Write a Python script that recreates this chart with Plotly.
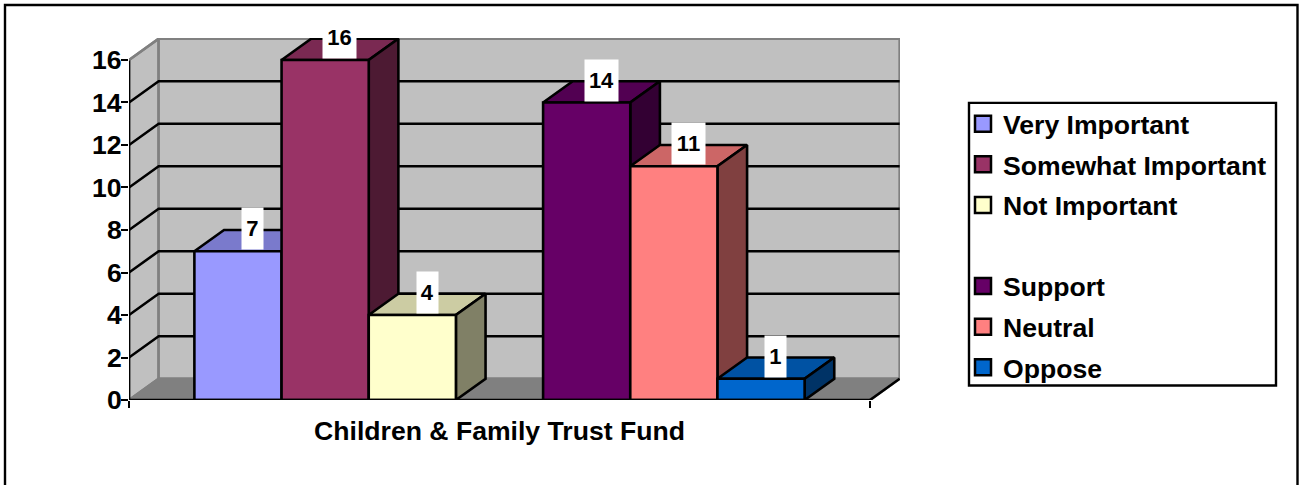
import plotly.graph_objects as go

TITLE = "Children &amp; Family Trust Fund"
SERIES = ["Very Important", "Somewhat Important", "Not Important", " ", "Support", "Neutral", "Oppose"]
VALUES = [7, 16, 4, None, 14, 11, 1]
FRONT = ["#9999ff", "#993366", "#ffffcc", "#ffffff", "#660066", "#ff8080", "#0066cc"]
TOP = ["#7a7acc", "#7a2952", "#cccca3", "#ffffff", "#520052", "#cc6666", "#0052a3"]
SIDE = ["#4d4d80", "#4d1a33", "#808066", "#ffffff", "#330033", "#804040", "#003366"]
YTICKS = [0, 2, 4, 6, 8, 10, 12, 14, 16]

W, H = 1299, 485
L, R, T, B = 129, 900, 38, 400.5
DX, DY = 0.04, 1.0
XMAX = (R - L) / 741
YMAX = (B - T) / 21.28
GAP = 0.75
BW = 1 / (len(SERIES) + 2 * GAP)
FONT = "Liberation Sans"
LBL = 26.6
LW = 2.6


def poly(xs, ys, fill, line, width=LW):
    return go.Scatter(x=xs + xs[:1], y=ys + ys[:1], mode="lines", fill="toself", fillcolor=fill,
                      line=dict(color=line, width=width), showlegend=False, hoverinfo="skip",
                      cliponaxis=False)


def seg(xs, ys, color="#000000", width=LW):
    return go.Scatter(x=xs, y=ys, mode="lines", line=dict(color=color, width=width),
                      showlegend=False, hoverinfo="skip", cliponaxis=False)


fig = go.Figure()
top_val = max(YTICKS)
# walls and floor
fig.add_trace(poly([0, DX, DX, 0], [0, DY, top_val + DY, top_val], "#c0c0c0", "#808080"))
fig.add_trace(poly([DX, 1 + DX, 1 + DX, DX], [DY, DY, top_val + DY, top_val + DY], "#c0c0c0", "#808080"))
fig.add_trace(poly([0, DX, 1 + DX, 1], [0, DY, DY, 0], "#808080", "#808080"))
fig.add_trace(seg([1, 1 + DX], [0, DY]))
# gridlines
for v in YTICKS[1:-1]:
    fig.add_trace(seg([0, DX, 1 + DX], [v, v + DY, v + DY]))
fig.add_trace(seg([0, 0], [0, top_val]))
fig.add_trace(seg([0, DX], [top_val, top_val + DY], "#808080"))
# bars
annotations = []
for i, (name, val) in enumerate(zip(SERIES, VALUES)):
    if val is None:
        continue
    x0 = (GAP + i) * BW
    x1 = x0 + BW
    fig.add_trace(poly([x0, x1, x1 + DX, x0 + DX], [val, val, val + DY, val + DY], TOP[i], "#000000"))
    fig.add_trace(poly([x1, x1 + DX, x1 + DX, x1], [0, DY, val + DY, val], SIDE[i], "#000000"))
    fig.add_trace(poly([x0, x1, x1, x0], [0, 0, val, val], FRONT[i], "#000000"))
    text = str(val)
    annotations.append(dict(x=(x0 + x1 + DX) / 2, y=val + DY, xref="x", yref="y", yshift=1, text=text, showarrow=False,
                            bgcolor="#ffffff", width=6 + 12.5 * len(text), height=39, align="center", valign="middle",
                            font=dict(family=FONT, size=22, color="#000000", weight=700)))
fig.add_trace(seg([0, 1], [0, 0]))
# legend proxies
for i, name in enumerate(SERIES):
    blank = VALUES[i] is None
    fig.add_trace(go.Scatter(x=[None], y=[None], mode="markers", name=name, legendgroup=name,
                             marker=dict(symbol="square", size=16, color=FRONT[i],
                                         line=dict(color="#ffffff" if blank else "#000000", width=2.5)),
                             showlegend=True, hoverinfo="skip"))


def px(p):
    return (p - L) / (R - L)


def py(p):
    return (B - p) / (B - T)


shapes = [
    dict(type="rect", xref="paper", yref="paper", x0=px(5), x1=px(1297.5), y0=py(5), y1=py(500),
         line=dict(color="#000000", width=2.4), layer="below"),
    dict(type="rect", xref="paper", yref="paper", x0=px(969), x1=px(1276), y0=py(103), y1=py(386),
         line=dict(color="#000000", width=2.4), fillcolor="#ffffff", layer="below"),
]

fig.update_layout(
    width=W, height=H, autosize=False,
    margin=dict(l=L, r=W - R, t=T, b=H - B, pad=0),
    paper_bgcolor="#ffffff", plot_bgcolor="rgba(0,0,0,0)",
    font=dict(family=FONT, color="#000000"),
    shapes=shapes, annotations=annotations, hovermode=False,
    xaxis=dict(range=[0, XMAX], showgrid=False, zeroline=False, showline=False,
               tickvals=[0.5], ticktext=[TITLE], ticks="outside", ticklen=7, tickcolor="rgba(0,0,0,0)",
               tickfont=dict(family=FONT, size=LBL, color="#000000", weight=700),
               minor=dict(tickvals=[0, 1], ticks="outside", ticklen=7, tickwidth=2.4, tickcolor="#000000")),
    yaxis=dict(range=[0, YMAX], showgrid=False, zeroline=False, showline=False,
               tickvals=YTICKS, ticks="outside", ticklen=7, tickwidth=2.4, tickcolor="#000000",
               ticklabelstandoff=-6,
               tickfont=dict(family=FONT, size=LBL, color="#000000", weight=700)),
    legend=dict(xref="container", yref="container", x=963 / W, y=1 - 100 / H, xanchor="left", yanchor="top",
                bgcolor="rgba(0,0,0,0)", borderwidth=0, traceorder="grouped", tracegroupgap=3,
                maxheight=400,
                font=dict(family=FONT, size=LBL, color="#000000", weight=700), itemclick=False, itemdoubleclick=False),
)
fig.write_html("out.html", config=dict(displayModeBar=False), post_script="document.body.style.margin='0';")
